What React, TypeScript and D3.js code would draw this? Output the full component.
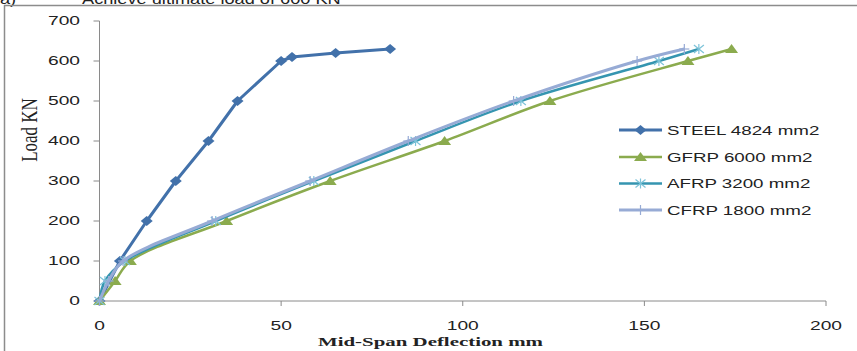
import React from "react";
import * as d3 from "d3";

const steelX = [0, 5.6, 13, 21, 30, 38, 50, 53, 65, 80];
const steelY = [0, 100, 200, 300, 400, 500, 600, 610, 620, 630];
const gfrpX = [0, 4.3, 8.5, 35, 63.5, 95, 124, 162, 174];
const gfrpY = [0, 50, 100, 200, 300, 400, 500, 600, 630];
const afrpX = [0, 1.5, 7, 32, 59, 87, 116, 154, 165];
const afrpY = [0, 50, 100, 200, 300, 400, 500, 600, 630];
const cfrpX = [0, 2.5, 6.5, 31, 58, 85, 114, 148, 161];
const cfrpY = [0, 50, 100, 200, 300, 400, 500, 600, 630];
const xTicks = [0, 50, 100, 150, 200];
const yTicks = [0, 100, 200, 300, 400, 500, 600, 700];
const seriesNames = ["STEEL 4824 mm2", "GFRP 6000 mm2", "AFRP 3200 mm2", "CFRP 1800 mm2"];

const W = 857, H = 351;
const x = d3.scaleLinear().domain([0, 200]).range([99.5, 826]);
const y = d3.scaleLinear().domain([0, 700]).range([301, 21]);

type S = { name: string; xs: number[]; ys: number[]; color: string; mColor: string; marker: string; smooth: boolean; width: number };
const series: S[] = [
  { name: seriesNames[0], xs: steelX, ys: steelY, color: "#4271AA", mColor: "#4271AA", marker: "diamond", smooth: false, width: 3 },
  { name: seriesNames[1], xs: gfrpX, ys: gfrpY, color: "#8BAB4E", mColor: "#8BAB4E", marker: "triangle", smooth: true, width: 2.5 },
  { name: seriesNames[2], xs: afrpX, ys: afrpY, color: "#3595B0", mColor: "#7DC3D9", marker: "star", smooth: true, width: 2.5 },
  { name: seriesNames[3], xs: cfrpX, ys: cfrpY, color: "#97ABD5", mColor: "#97ABD5", marker: "plus", smooth: true, width: 3 },
];

function Marker({ kind, cx, cy, color }: { kind: string; cx: number; cy: number; color: string }) {
  if (kind === "diamond") {
    return <path d={`M${cx - 6},${cy} L${cx},${cy - 5} L${cx + 6},${cy} L${cx},${cy + 5} Z`} fill={color} />;
  }
  if (kind === "triangle") {
    return <path d={`M${cx - 6.5},${cy + 4} L${cx},${cy - 5} L${cx + 6.5},${cy + 4} Z`} fill={color} />;
  }
  if (kind === "star") {
    return (
      <g stroke={color} strokeWidth={1.2}>
        <line x1={cx - 5} y1={cy - 4} x2={cx + 5} y2={cy + 4} />
        <line x1={cx - 5} y1={cy + 4} x2={cx + 5} y2={cy - 4} />
        <line x1={cx} y1={cy - 5} x2={cx} y2={cy + 5} />
      </g>
    );
  }
  return (
    <g stroke={color} strokeWidth={1.2}>
      <line x1={cx - 5} y1={cy} x2={cx + 5} y2={cy} />
      <line x1={cx} y1={cy - 5} x2={cx} y2={cy + 5} />
    </g>
  );
}

function SText({ x0, y0, sx, size, anchor, family, weight, children }: any) {
  return (
    <g transform={`translate(${x0},${y0}) scale(${sx},1)`}>
      <text x={0} y={0} fontSize={size} textAnchor={anchor} fontFamily={family} fontWeight={weight || "normal"} fill="#222">
        {children}
      </text>
    </g>
  );
}

export default function App() {
  const sans = "'Liberation Sans', Arial, sans-serif";
  const serif = "'Liberation Serif', 'Times New Roman', serif";
  const legendY = [130, 157, 183.5, 210];
  return (
    <svg width={W} height={H} style={{ position: "fixed", left: 0, top: 0, background: "#fff" }}>
      <rect x={0} y={0} width={W} height={H} fill="#fff" />
      <SText x0={0} y0={4} sx={1.3} size={14} anchor="start" family={sans}>a)</SText>
      <SText x0={82} y0={4} sx={1.3} size={14} anchor="start" family={sans}>Achieve ultimate load of 600 KN</SText>
      <line x1={4} y1={5.5} x2={W} y2={5.5} stroke="#8c8c8c" strokeWidth={1.5} />
      <line x1={4.5} y1={5} x2={4.5} y2={H} stroke="#8c8c8c" strokeWidth={1.5} />

      {/* axes */}
      <line x1={x(0)} y1={y(700)} x2={x(0)} y2={y(0)} stroke="#8a8a8a" strokeWidth={1} />
      <line x1={x(0)} y1={y(0)} x2={x(200)} y2={y(0)} stroke="#8a8a8a" strokeWidth={1} />
      {yTicks.map((t) => (
        <g key={"yt" + t}>
          <line x1={x(0) - 6} y1={y(t)} x2={x(0)} y2={y(t)} stroke="#8a8a8a" />
          <SText x0={80} y0={y(t) + 4.3} sx={1.6} size={12} anchor="end" family={sans}>{t}</SText>
        </g>
      ))}
      {xTicks.map((t) => (
        <g key={"xt" + t}>
          <line x1={x(t)} y1={y(0)} x2={x(t)} y2={y(0) + 5} stroke="#8a8a8a" />
          <SText x0={x(t)} y0={329.5} sx={1.6} size={12} anchor="middle" family={sans}>{t}</SText>
        </g>
      ))}
      <text x={430.5} y={346} fontSize={13} fontFamily={serif} fontWeight="bold" textAnchor="middle" textLength={225} lengthAdjust="spacingAndGlyphs" fill="#222">
        Mid-Span Deflection mm
      </text>
      <g transform="translate(37,130) scale(1.3,1) rotate(-90)">
        <text x={0} y={0} fontSize={17} fontFamily={serif} textAnchor="middle" fill="#222">Load  KN</text>
      </g>

      {/* series */}
      {series.map((s) => {
        const pts: [number, number][] = s.xs.map((v, i) => [x(v), y(s.ys[i])]);
        const gen = d3.line().curve(s.smooth ? d3.curveCatmullRom.alpha(0.5) : d3.curveLinear);
        return (
          <g key={s.name}>
            <path d={gen(pts) || ""} fill="none" stroke={s.color} strokeWidth={s.width} strokeLinejoin="round" />
            {pts.map((p, i) => (
              <Marker key={i} kind={s.marker} cx={p[0]} cy={p[1]} color={s.mColor} />
            ))}
          </g>
        );
      })}

      {/* legend */}
      {series.map((s, i) => (
        <g key={"lg" + i}>
          <line x1={619} y1={legendY[i]} x2={662} y2={legendY[i]} stroke={s.color} strokeWidth={s.width} />
          <Marker kind={s.marker} cx={640.5} cy={legendY[i]} color={s.mColor} />
          <SText x0={667} y0={legendY[i] + 4.5} sx={1.5} size={12.5} anchor="start" family={sans}>{s.name}</SText>
        </g>
      ))}
    </svg>
  );
}
